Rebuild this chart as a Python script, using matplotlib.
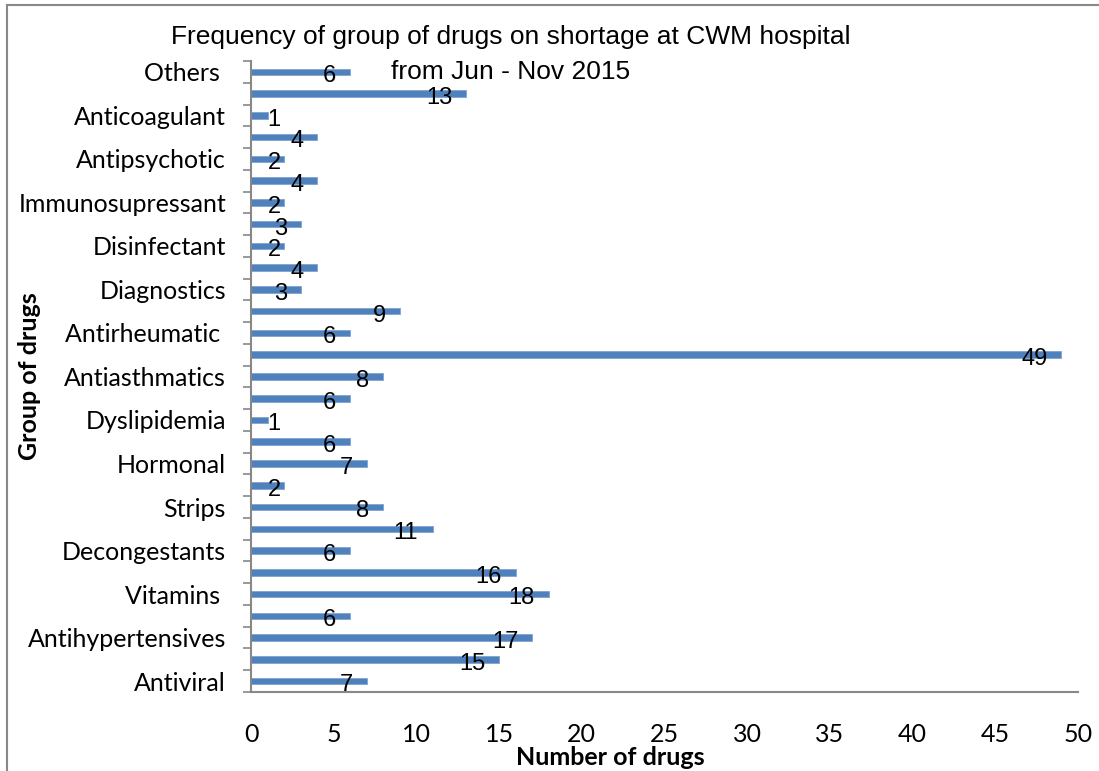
import numpy as np
import matplotlib.pyplot as plt
from matplotlib.lines import Line2D

# bars from bottom to top; only every other bar carries a name
groups = ['Antiviral', '', 'Antihypertensives', '', 'Vitamins ', '', 'Decongestants', '',
          'Strips', '', 'Hormonal', '', 'Dyslipidemia', '', 'Antiasthmatics', '',
          'Antirheumatic ', '', 'Diagnostics', '', 'Disinfectant', '', 'Immunosupressant', '',
          'Antipsychotic', '', 'Anticoagulant', '', 'Others ']
counts = [7, 15, 17, 6, 18, 16, 6, 11, 8, 2, 7, 6, 1, 6, 8, 49, 6, 9, 3, 4, 2, 3, 2, 4,
          2, 4, 1, 13, 6]
xticks = [0, 5, 10, 15, 20, 25, 30, 35, 40, 45, 50]

fig = plt.figure(figsize=(10.99, 7.71), dpi=100)
ax = fig.add_axes([0.2284, 0.1025, 0.7525, 0.8184])

pos = np.arange(len(counts))
ax.barh(pos, counts, height=0.3, color='#4F81BD', edgecolor='#7FA3D0', linewidth=0.6)

ax.set_xlim(0, 50)
ax.set_ylim(-0.5, len(counts) - 0.5)
ax.set_xticks(xticks)
ax.set_xticklabels([str(t) for t in xticks], fontsize=18, family='Lato')
ax.tick_params(axis='x', length=0, pad=22)

ax.set_yticks(pos[::2])
ax.set_yticklabels(groups[::2], fontsize=18, family='Lato')
ax.set_yticks(np.arange(-0.5, len(counts), 1.0), minor=True)
ax.tick_params(axis='y', which='major', length=0, pad=18)
ax.tick_params(axis='y', which='minor', length=6, color='#888888', width=1.2)

for s in ['top', 'right']:
    ax.spines[s].set_visible(False)
for s in ['left', 'bottom']:
    ax.spines[s].set_color('#888888')
    ax.spines[s].set_linewidth(1.5)

# value labels near the inside end of each bar
unit = 0.0605  # data units per pixel
for p, v in zip(pos, counts):
    txt = str(v)
    w = len(txt) * 13 * unit
    left = v - 14 * unit - w
    if left < 1.0:
        left = 1.0
    ax.text(left, p - 0.2, txt, ha='left', va='center', fontsize=17,
            family='Liberation Sans')

ax.set_xlabel('Number of drugs', fontsize=18, fontweight='bold', family='Lato')
ax.set_ylabel('Group of drugs', fontsize=18, fontweight='bold', family='Lato')
ax.xaxis.set_label_coords(0.434, -0.085)
ax.yaxis.set_label_coords(-0.254, 0.5)

fig.text(0.465, 0.952, 'Frequency of group of drugs on shortage at CWM hospital',
         ha='center', va='center', fontsize=19, family='Liberation Sans')
fig.text(0.465, 0.907, 'from Jun - Nov 2015', ha='center', va='center',
         fontsize=19, family='Liberation Sans')

# outer frame (top and left only visible in the crop)
fig.add_artist(Line2D([0.0068, 1.0], [0.9935, 0.9935], transform=fig.transFigure,
                      color='#888888', linewidth=1.5))
fig.add_artist(Line2D([0.0068, 0.0068], [0.0, 0.9935], transform=fig.transFigure,
                      color='#888888', linewidth=1.5))

fig.savefig('out.png', dpi=100)
